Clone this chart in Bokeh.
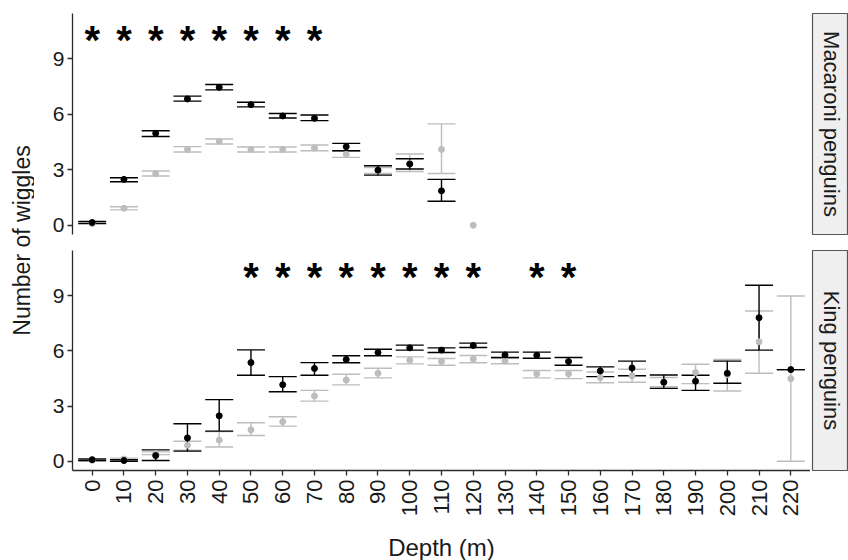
import numpy as np
from bokeh.plotting import figure
from bokeh.models import ColumnDataSource, Whisker, TeeHead, FixedTicker, Range1d, Label
from bokeh.layouts import row, column
from bokeh.core.properties import value
from bokeh.embed import file_html
from bokeh.resources import INLINE

# ---------------- data ----------------
depths = [0, 10, 20, 30, 40, 50, 60, 70, 80, 90, 100, 110, 120, 130, 140, 150,
          160, 170, 180, 190, 200, 210, 220]
y_ticks = [0, 3, 6, 9]

# Macaroni penguins
mac_black_depth = [0, 10, 20, 30, 40, 50, 60, 70, 80, 90, 100, 110]
mac_black_mean = [0.15, 2.48, 4.97, 6.83, 7.46, 6.52, 5.91, 5.78, 4.25, 2.98, 3.31, 1.86]
mac_black_lo = [0.10, 2.35, 4.80, 6.71, 7.32, 6.40, 5.80, 5.66, 4.03, 2.71, 3.04, 1.30]
mac_black_hi = [0.21, 2.57, 5.11, 6.98, 7.61, 6.65, 6.04, 5.96, 4.43, 3.22, 3.60, 2.48]

mac_grey_depth = [0, 10, 20, 30, 40, 50, 60, 70, 80, 90, 100, 110, 120]
mac_grey_mean = [0.08, 0.92, 2.80, 4.10, 4.54, 4.10, 4.10, 4.17, 3.83, 2.95, 3.35, 4.10, 0.0]
mac_grey_lo = [0.05, 0.83, 2.66, 3.96, 4.39, 3.96, 3.96, 4.03, 3.67, 2.80, 2.91, 2.80, np.nan]
mac_grey_hi = [0.12, 1.00, 2.93, 4.25, 4.66, 4.23, 4.23, 4.34, 4.00, 3.12, 3.85, 5.48, np.nan]

mac_star_depth = [0, 10, 20, 30, 40, 50, 60, 70]

# King penguins
king_black_mean = [0.09, 0.04, 0.31, 1.27, 2.47, 5.36, 4.16, 5.04, 5.53, 5.91, 6.16, 6.04,
                   6.29, 5.78, 5.76, 5.42, 4.91, 5.07, 4.29, 4.35, 4.78, 7.80, 4.98]
king_black_lo = [0.04, 0.00, 0.04, 0.55, 1.64, 4.67, 3.78, 4.67, 5.35, 5.73, 6.04, 5.91,
                 6.18, 5.64, 5.60, 5.22, 4.60, 4.65, 3.96, 3.85, 4.24, 6.04, 4.98]
king_black_hi = [0.13, 0.09, 0.62, 2.04, 3.35, 6.05, 4.60, 5.36, 5.73, 6.09, 6.31, 6.16,
                 6.42, 5.93, 5.93, 5.64, 5.13, 5.44, 4.69, 4.67, 5.44, 9.56, 4.98]

king_grey_mean = [0.05, 0.12, 0.42, 0.87, 1.15, 1.71, 2.15, 3.55, 4.42, 4.78, 5.49, 5.42,
                  5.55, 5.45, 4.75, 4.75, 4.55, 4.64, 4.30, 4.82, 4.70, 6.49, 4.49]
king_grey_lo = [0.02, 0.07, 0.36, 0.60, 0.78, 1.40, 1.91, 3.27, 4.15, 4.53, 5.29, 5.22,
                5.35, 5.30, 4.53, 4.49, 4.27, 4.29, 4.05, 4.22, 3.82, 4.78, 0.00]
king_grey_hi = [0.09, 0.17, 0.51, 1.09, 1.62, 2.09, 2.42, 3.85, 4.73, 5.05, 5.67, 5.58,
                5.75, 5.60, 4.93, 4.93, 4.85, 5.00, 4.55, 5.27, 5.53, 8.16, 8.98]

king_star_depth = [50, 60, 70, 80, 90, 100, 110, 120, 140, 150]
star_level = 10.3

panel_names = ["Macaroni penguins", "King penguins"]
x_title = "Depth (m)"
y_title = "Number of wiggles"

# ---------------- style ----------------
FONT = "Liberation Sans"
BLACK = "#000000"
GREY = "#bdbdbd"
AXIS_COL = "#2b2b2b"
TEXT_COL = "#1a1a1a"

x_range = Range1d(-6.2, 226.2)


def add_series(p, d, mean, lo, hi, color, lw):
    d = np.asarray(d, float)
    mean = np.asarray(mean, float)
    lo = np.asarray(lo, float)
    hi = np.asarray(hi, float)
    ok = np.isfinite(lo) & np.isfinite(hi)
    src = ColumnDataSource(dict(base=d[ok], lower=lo[ok], upper=hi[ok]))
    w = Whisker(source=src, base="base", lower="lower", upper="upper",
                dimension="height", line_color=color, line_width=lw,
                upper_head=TeeHead(size=28, line_color=color, line_width=lw),
                lower_head=TeeHead(size=28, line_color=color, line_width=lw))
    p.add_layout(w)
    return ColumnDataSource(dict(x=d, y=mean))


def make_panel(width, height, top, bottom, show_x):
    p = figure(width=width, height=height, x_range=x_range,
               y_range=Range1d(-0.5, 11.45), output_backend="svg",
               toolbar_location=None,
               x_axis_location="below" if show_x else None)
    p.min_border_left = 38
    p.min_border_right = 0
    p.min_border_top = top
    p.min_border_bottom = bottom
    p.outline_line_color = None
    p.grid.visible = False
    p.background_fill_color = "white"
    p.border_fill_color = "white"
    ya = p.yaxis[0]
    ya.ticker = FixedTicker(ticks=y_ticks)
    ya.axis_line_color = AXIS_COL
    ya.axis_line_width = 1.3
    ya.major_tick_line_color = AXIS_COL
    ya.major_tick_line_width = 1.3
    ya.major_tick_in = 0
    ya.major_tick_out = 5
    ya.minor_tick_line_color = None
    ya.major_label_text_font = FONT
    ya.major_label_text_font_size = "21px"
    ya.major_label_text_color = TEXT_COL
    ya.major_label_standoff = 3
    if show_x:
        xa = p.xaxis[0]
        xa.ticker = FixedTicker(ticks=depths)
        xa.axis_line_color = AXIS_COL
        xa.axis_line_width = 1.3
        xa.major_tick_line_color = AXIS_COL
        xa.major_tick_line_width = 1.3
        xa.major_tick_in = 0
        xa.major_tick_out = 5
        xa.minor_tick_line_color = None
        xa.major_label_text_font = FONT
        xa.major_label_text_font_size = "22px"
        xa.major_label_text_color = TEXT_COL
        xa.major_label_orientation = np.pi / 2
        xa.major_label_standoff = 4
    return p


def add_stars(p, star_depth):
    src = ColumnDataSource(dict(x=star_depth, y=[star_level] * len(star_depth),
                                t=["*"] * len(star_depth)))
    p.text(x="x", y="y", text="t", source=src, text_font=value(FONT),
           text_font_size="40px", text_font_style="bold", text_align="center",
           text_baseline="middle", text_color=BLACK, y_offset=5)


def make_strip(width, height, top, bottom, label):
    s = figure(width=width, height=height, x_range=Range1d(0, 1), y_range=Range1d(0, 1),
               output_backend="svg", toolbar_location=None,
               x_axis_location=None, y_axis_location=None)
    s.min_border_left = 2
    s.min_border_right = 0
    s.min_border_top = top
    s.min_border_bottom = bottom
    s.grid.visible = False
    s.background_fill_color = "#efefef"
    s.border_fill_color = "white"
    s.outline_line_color = "#555555"
    s.outline_line_width = 1.2
    s.add_layout(Label(x=0.52, y=0.5, text=label, angle=-np.pi / 2,
                       text_align="center", text_baseline="middle",
                       text_font=FONT, text_font_size="22px",
                       text_color=TEXT_COL))
    return s


# top panel
p1 = make_panel(776, 242, 13, 8, False)
g1 = add_series(p1, mac_grey_depth, mac_grey_mean, mac_grey_lo, mac_grey_hi, GREY, 1.4)
b1 = add_series(p1, mac_black_depth, mac_black_mean, mac_black_lo, mac_black_hi, BLACK, 1.4)
p1.scatter(x="x", y="y", source=g1, size=6, fill_color=GREY, line_color=GREY)
p1.scatter(x="x", y="y", source=b1, size=6, fill_color=BLACK, line_color=BLACK)
add_stars(p1, mac_star_depth)
s1 = make_strip(38, 242, 13, 8, panel_names[0])

# bottom panel
p2 = make_panel(776, 285, 8, 57, True)
g2 = add_series(p2, depths, king_grey_mean, king_grey_lo, king_grey_hi, GREY, 1.4)
b2 = add_series(p2, depths, king_black_mean, king_black_lo, king_black_hi, BLACK, 1.4)
p2.scatter(x="x", y="y", source=g2, size=6, fill_color=GREY, line_color=GREY)
p2.scatter(x="x", y="y", source=b2, size=6, fill_color=BLACK, line_color=BLACK)
add_stars(p2, king_star_depth)
s2 = make_strip(38, 285, 8, 57, panel_names[1])

# x title strip
xt = figure(width=814, height=33, x_range=Range1d(0, 814), y_range=Range1d(0, 33),
            output_backend="svg", toolbar_location=None,
            x_axis_location=None, y_axis_location=None)
xt.min_border = 0
xt.grid.visible = False
xt.outline_line_color = None
xt.add_layout(Label(x=407, y=13, text=x_title, text_align="center",
                    text_baseline="middle", text_font=FONT,
                    text_font_size="24px", text_color=TEXT_COL))

# y title column
yt = figure(width=34, height=560, x_range=Range1d(0, 34), y_range=Range1d(0, 560),
            output_backend="svg", toolbar_location=None,
            x_axis_location=None, y_axis_location=None)
yt.min_border = 0
yt.grid.visible = False
yt.outline_line_color = None
yt.add_layout(Label(x=21, y=320, text=y_title, angle=np.pi / 2,
                    text_align="center", text_baseline="middle",
                    text_font=FONT, text_font_size="23px",
                    text_color=TEXT_COL))

layout = row(yt, column(row(p1, s1), row(p2, s2), xt))

open("out.html", "w").write(file_html(layout, INLINE))
